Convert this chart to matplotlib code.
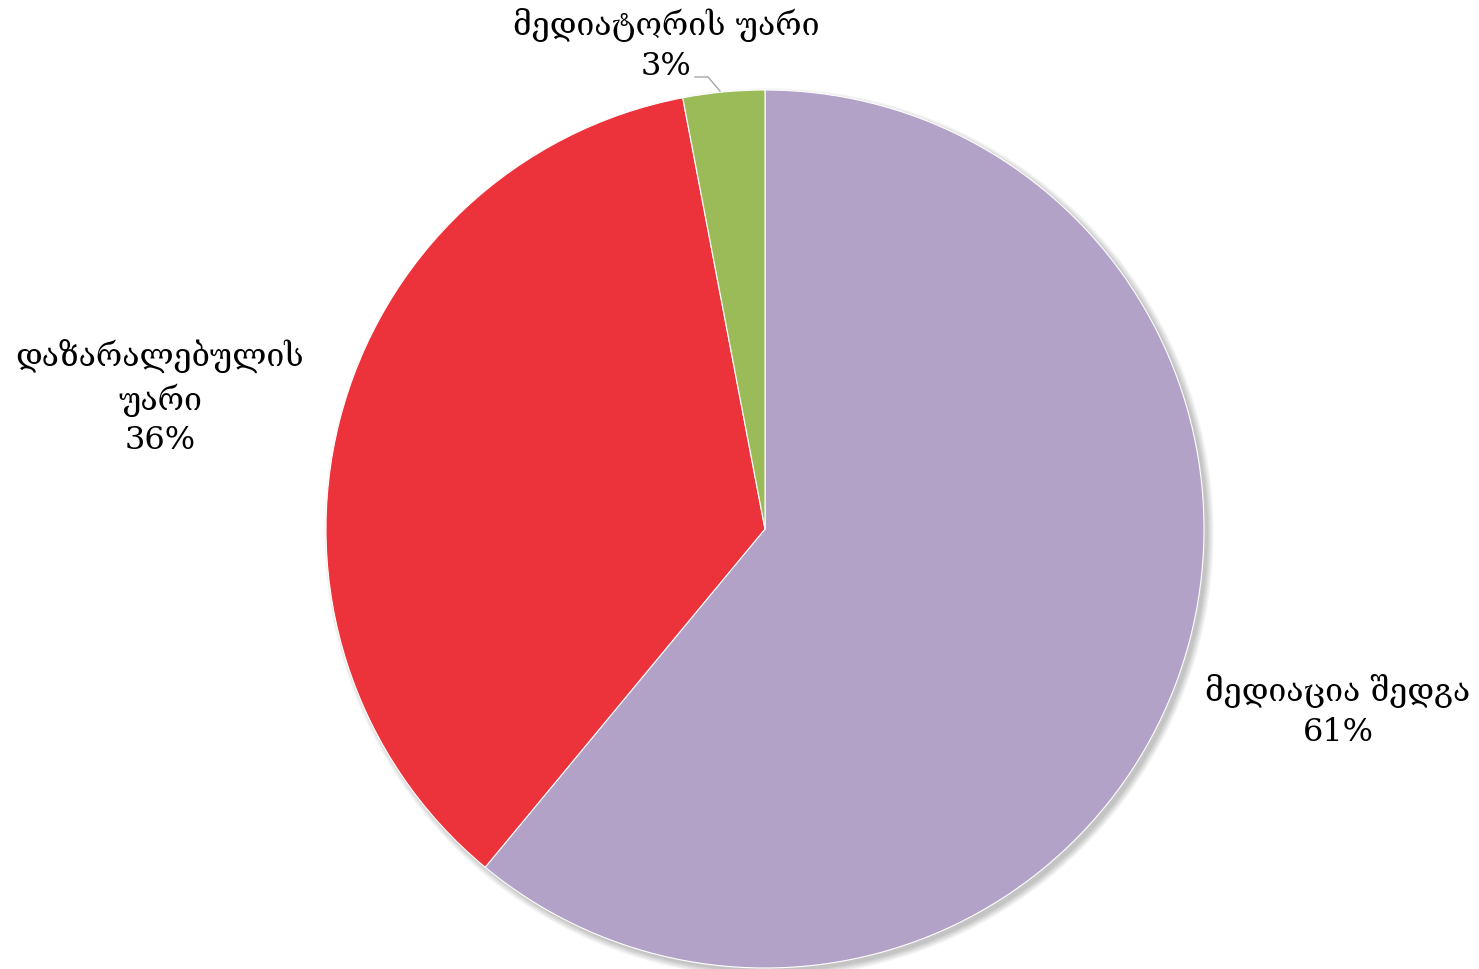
import matplotlib.pyplot as plt
from matplotlib.patches import Circle

labels = ['მედიაცია შედგა', 'დაზარალებულის\nუარი', 'მედიატორის უარი']
shares = [61, 36, 3]
colors = ['#B2A2C7', '#EC323A', '#9BBB59']

plt.rcParams['font.family'] = ['DejaVu Serif', 'DejaVu Sans']

fig = plt.figure(figsize=(14.79, 9.70), dpi=100)
ax = fig.add_axes([0, 0, 1, 1])
ax.set_xlim(0, 1479)
ax.set_ylim(0, 970)
ax.set_aspect('equal')
ax.axis('off')

cx, cy, r = 765, 440, 439

# soft shadow to the lower right
for i in range(12):
    ax.add_patch(Circle((cx + 4, cy - 4), r + 6 - i * 0.6, color='#000000',
                        alpha=0.018, lw=0, zorder=0))

wedges, _ = ax.pie(shares, colors=colors, startangle=90, counterclock=False,
                   center=(cx, cy), radius=r, frame=True,
                   wedgeprops=dict(edgecolor='white', linewidth=0.8))
ax.set_xlim(0, 1479)
ax.set_ylim(0, 970)
ax.axis('off')

fs = 23
ax.text(1338, 970 - 711, labels[0] + '\n' + f'{shares[0]}%', ha='center', va='center',
        fontsize=fs, linespacing=1.35)
ax.text(160, 970 - 398, labels[1] + '\n' + f'{shares[1]}%', ha='center', va='center',
        fontsize=fs, linespacing=1.35)
ax.text(666, 970 - 45, labels[2] + '\n' + f'{shares[2]}%', ha='center', va='center',
        fontsize=fs, linespacing=1.35)

# leader line for the small slice
ax.plot([695, 708, 720], [970 - 78, 970 - 78, 970 - 92], color='#A6A6A6', lw=1)

fig.savefig('out.png', dpi=100, facecolor='white')
